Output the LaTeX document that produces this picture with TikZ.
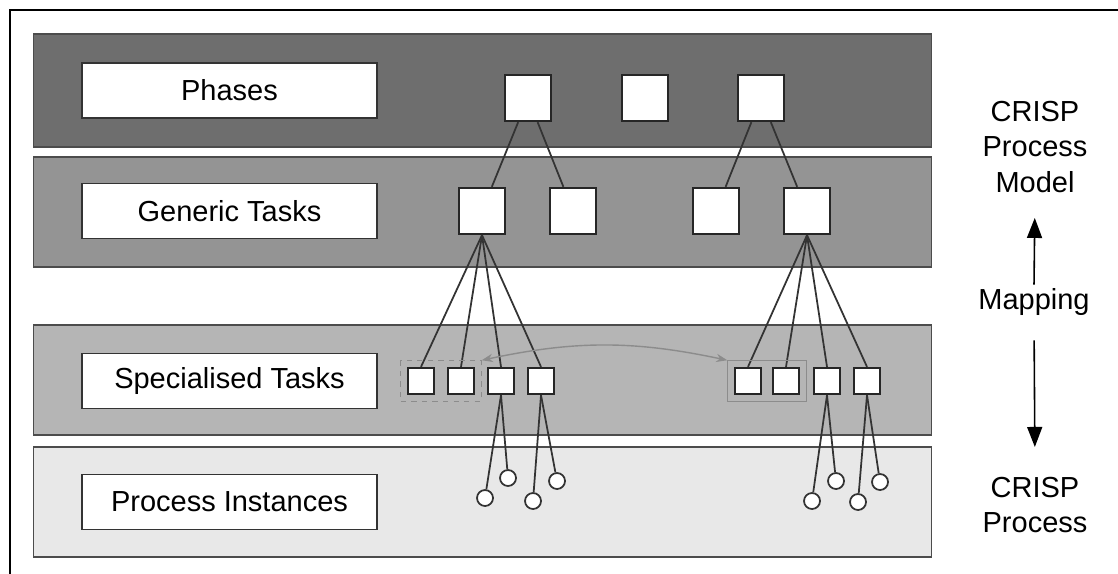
\documentclass[tikz,border=0pt]{standalone}
\usepackage{fontspec}
\setmainfont{Liberation Sans}
\usetikzlibrary{arrows.meta,positioning,fit}

\definecolor{phaseband}{gray}{0.43}
\definecolor{genericband}{gray}{0.58}
\definecolor{specialband}{gray}{0.71}
\definecolor{instanceband}{gray}{0.91}

\begin{document}
\begin{tikzpicture}[
    x=0.02cm, y=-0.02cm,
    band/.style={draw=black!70, line width=0.6pt, minimum width=17.98cm, inner sep=0pt},
    label/.style={draw=black!80, fill=white, line width=0.9pt, minimum width=5.9cm,
        minimum height=1.1cm, font=\fontsize{16.5}{20}\selectfont},
    task/.style={draw=black!85, fill=white, line width=1.3pt, minimum size=0.92cm, inner sep=0pt},
    subtask/.style={task, minimum size=0.52cm},
    inst/.style={circle, draw=black!80, fill=white, line width=1pt, minimum size=0.32cm, inner sep=0pt},
    link/.style={black!80, line width=1pt},
    group/.style={draw=black!45, line width=0.7pt, inner sep=0.12cm},
    swap/.style={{Stealth[length=2.2mm]}-{Stealth[length=2.2mm]}, black!45, line width=0.8pt},
    mapping/.style={-{Triangle[length=4mm, width=3mm]}, line width=0.9pt},
    side/.style={font=\fontsize{16.5}{20.4}\selectfont, align=center, inner sep=2pt}
]
\useasboundingbox (0,0) rectangle (1118,574);

% Frame
\draw[line width=1.1pt] (10,600) |- (1140,10);

% Layers
\node[band, fill=phaseband, minimum height=2.26cm] (bphase) at (482.5,90.5) {};
\node[band, fill=genericband, minimum height=2.2cm] (bgeneric) at (482.5,212) {};
\node[band, fill=specialband, minimum height=2.2cm] (bspecial) at (482.5,380) {};
\node[band, fill=instanceband, minimum height=2.2cm] (binstance) at (482.5,502) {};

% Layer labels
\node[label] (lphase) at (229.5,90.5) {Phases};
\node[label] (lgeneric) at (229.5,211) {Generic Tasks};
\node[label] (lspecial) at (229.5,381) {Specialised Tasks};
\node[label] (linstance) at (229.5,502) {Process Instances};

% Phases
\foreach \n/\x in {1/528,2/645,3/761} {
    \node[task] (p\n) at (\x,98) {};
}

% Generic tasks
\foreach \n/\x in {1/482,2/573,3/716,4/807} {
    \node[task] (g\n) at (\x,211) {};
}

% Specialised tasks
\foreach \n/\x in {1/421,2/461,3/501,4/541,5/748,6/786,7/827,8/867} {
    \node[subtask] (s\n) at (\x,381) {};
}

% Process instances
\foreach \n/\x/\y in {1/485/498,2/508/478,3/533/501,4/557/481,5/812/501,6/836/481,7/858/502,8/880/482} {
    \node[inst] (c\n) at (\x,\y) {};
}

% Connections
\foreach \i/\j in {1/1,1/2,3/3,3/4} {
    \draw[link] (p\i) -- (g\j);
}
\foreach \j in {1,2,3,4} {
    \draw[link] (g1.south) -- (s\j.north);
}
\foreach \j in {5,6,7,8} {
    \draw[link] (g4.south) -- (s\j.north);
}
\foreach \i/\j in {3/1,3/2,4/3,4/4,7/5,7/6,8/7,8/8} {
    \draw[link] (s\i.south) -- (c\j);
}

% Matched groups
\node[group, dashed, fit=(s1)(s2)] (lgrp) {};
\node[group, fit=(s5)(s6)] (rgrp) {};
\draw[swap] (lgrp.north east) to[bend left=12] (rgrp.north west);

% Mapping
\node[side] (model) at (1035,147) {CRISP\\Process\\Model};
\node[side] (map) at (1034,302) {Mapping};
\node[side] (process) at (1035,505) {CRISP\\Process};
\draw[mapping, shorten >=0.42cm] (map.north) -- (model.south);
\draw[mapping, shorten <=0.42cm, shorten >=0.52cm] (map.south) -- (process.north);

\end{tikzpicture}
\end{document}
